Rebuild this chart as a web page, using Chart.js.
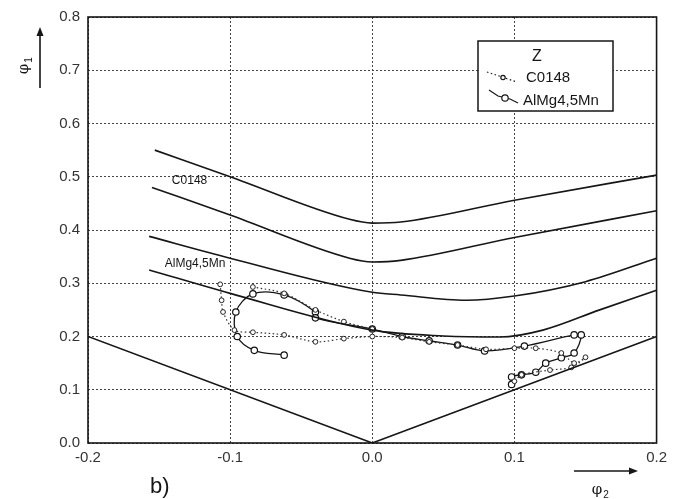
<!DOCTYPE html>
<html>
<head>
<meta charset="utf-8">
<script src="https://cdn.jsdelivr.net/npm/chart.js@4.4.1/dist/chart.umd.min.js"></script>
<style>
html,body{margin:0;padding:0;background:#fff;}
#wrap{width:673px;height:499px;position:relative;}
</style>
</head>
<body>
<div id="wrap"><canvas id="c" width="673" height="499"></canvas></div>
<script>
// ---- data ----
const xTickLabels = ['-0.2', '-0.1', '0.0', '0.1', '0.2'];
const yTickLabels = ['0.0', '0.1', '0.2', '0.3', '0.4', '0.5', '0.6', '0.7', '0.8'];

// limit curves (x = phi2, y = phi1)
const curveC0148Upper = [[-0.153,0.55],[-0.1,0.50],[-0.016,0.42],[0,0.413],[0.02,0.415],[0.1,0.456],[0.2,0.503]];
const curveC0148Lower = [[-0.155,0.48],[-0.1,0.428],[-0.016,0.347],[0,0.34],[0.02,0.343],[0.1,0.386],[0.2,0.436]];
const curveAlMgUpper  = [[-0.157,0.388],[-0.1,0.347],[0,0.283],[0.02,0.278],[0.066,0.268],[0.1,0.276],[0.15,0.303],[0.2,0.347]];
const curveAlMgLower  = [[-0.157,0.325],[-0.1,0.281],[0,0.212],[0.05,0.201],[0.09,0.199],[0.12,0.212],[0.16,0.25],[0.2,0.287]];
const boundaryV       = [[-0.2,0.2],[0,0],[0.2,0.2]];

// measured paths
const seriesC0148 = [[-0.107,0.298],[-0.106,0.268],[-0.105,0.246],[-0.097,0.212],[-0.084,0.208],[-0.062,0.203],[-0.04,0.19],
                     [-0.02,0.196],[0,0.2],[0.021,0.198],[0.04,0.19],[0.06,0.184],[0.08,0.176],[0.1,0.178],[0.115,0.178],
                     [0.133,0.169],[0.142,0.15],[0.15,0.161],[0.14,0.142],[0.125,0.137],[0.105,0.128],[0.1,0.116]];
const seriesC0148b = [[-0.084,0.293],[-0.062,0.281],[-0.04,0.25],[-0.02,0.228],[0,0.214]];
const seriesAlMg = [[-0.062,0.165],[-0.083,0.174],[-0.095,0.2],[-0.096,0.246],[-0.084,0.28],[-0.062,0.278],[-0.04,0.246],
                    [-0.04,0.235],[0,0.214],[0.021,0.2],[0.04,0.192],[0.06,0.184],[0.079,0.173],[0.107,0.182],[0.142,0.203],
                    [0.147,0.203],[0.142,0.169],[0.133,0.16],[0.122,0.15],[0.115,0.133],[0.105,0.128],[0.098,0.124],[0.098,0.11]];

const toXY = a => a.map(p => ({x: p[0], y: p[1]}));
const INK = '#161616';
const FONT = '"Liberation Sans", Arial, sans-serif';

function curveDs(pts) {
  return {data: toXY(pts), showLine: true, borderColor: INK, borderWidth: 1.6, pointRadius: 0,
          cubicInterpolationMode: 'monotone', fill: false};
}

const decor = {
  id: 'decor',
  beforeDatasetsDraw(chart) {
    const {ctx, chartArea: a} = chart;
    ctx.save();
    ctx.strokeStyle = INK; ctx.lineWidth = 1.6;
    ctx.strokeRect(a.left, a.top, a.right - a.left, a.bottom - a.top);
    ctx.restore();
  },
  afterDraw(chart) {
    const {ctx, scales} = chart;
    const xs = scales.x, ys = scales.y;
    ctx.save();
    ctx.fillStyle = INK; ctx.strokeStyle = INK;
    // in-plot curve labels
    ctx.font = '12px ' + FONT;
    ctx.textBaseline = 'middle'; ctx.textAlign = 'left';
    ctx.fillText('C0148', xs.getPixelForValue(-0.141), ys.getPixelForValue(0.492));
    ctx.fillText('AlMg4,5Mn', xs.getPixelForValue(-0.146), ys.getPixelForValue(0.336));
    // legend box
    ctx.fillStyle = '#fff';
    ctx.fillRect(478, 41, 135, 70);
    ctx.lineWidth = 1.5;
    ctx.strokeRect(478, 41, 135, 70);
    ctx.fillStyle = INK;
    ctx.font = '16px ' + FONT; ctx.textAlign = 'center';
    ctx.fillText('Z', 537, 57);
    ctx.textAlign = 'left';
    ctx.font = '15px ' + FONT;
    ctx.fillText('C0148', 526, 78);
    ctx.fillText('AlMg4,5Mn', 523, 101);
    // legend symbols
    ctx.lineWidth = 1.2;
    ctx.setLineDash([1.5, 2.5]);
    ctx.beginPath(); ctx.moveTo(487, 72); ctx.lineTo(517, 82); ctx.stroke();
    ctx.setLineDash([]);
    ctx.fillStyle = '#fff';
    ctx.beginPath(); ctx.arc(503, 77.5, 2.2, 0, Math.PI * 2); ctx.fill(); ctx.stroke();
    ctx.beginPath(); ctx.moveTo(489, 90); ctx.lineTo(498, 96); ctx.lineTo(510, 99); ctx.lineTo(518, 103); ctx.stroke();
    ctx.beginPath(); ctx.arc(505, 98, 3.2, 0, Math.PI * 2); ctx.fill(); ctx.stroke();
    ctx.fillStyle = INK;
    // y axis title with arrow
    ctx.save();
    ctx.translate(24, 66); ctx.rotate(-Math.PI / 2);
    ctx.font = '15px "DejaVu Serif", serif'; ctx.textAlign = 'center';
    ctx.fillText('\u03C6', -3, 0);
    ctx.font = '10px ' + FONT;
    ctx.fillText('1', 6, 5);
    ctx.restore();
    ctx.lineWidth = 1.6;
    ctx.beginPath(); ctx.moveTo(40, 88); ctx.lineTo(40, 32); ctx.stroke();
    ctx.beginPath(); ctx.moveTo(40, 27); ctx.lineTo(36.5, 36); ctx.lineTo(43.5, 36); ctx.closePath(); ctx.fill();
    // x axis title with arrow
    ctx.beginPath(); ctx.moveTo(574, 471); ctx.lineTo(632, 471); ctx.stroke();
    ctx.beginPath(); ctx.moveTo(638, 471); ctx.lineTo(629, 467.5); ctx.lineTo(629, 474.5); ctx.closePath(); ctx.fill();
    ctx.font = '15px "DejaVu Serif", serif'; ctx.textAlign = 'center';
    ctx.fillText('\u03C6', 597, 490);
    ctx.font = '10px ' + FONT;
    ctx.fillText('2', 606, 495);
    // panel label
    ctx.font = '22px ' + FONT; ctx.textAlign = 'left';
    ctx.fillText('b)', 150, 487);
    ctx.restore();
  }
};

new Chart(document.getElementById('c'), {
  type: 'scatter',
  data: {
    datasets: [
      curveDs(curveC0148Upper),
      curveDs(curveC0148Lower),
      curveDs(curveAlMgUpper),
      curveDs(curveAlMgLower),
      {data: toXY(boundaryV), showLine: true, borderColor: INK, borderWidth: 1.6, pointRadius: 0, tension: 0},
      {data: toXY(seriesC0148), showLine: true, borderColor: '#333', borderWidth: 1.2, borderDash: [1.5, 2.5],
       tension: 0.3, pointRadius: 2.4, pointStyle: 'circle', pointBackgroundColor: '#fff', pointBorderColor: '#222', pointBorderWidth: 1},
      {data: toXY(seriesC0148b), showLine: true, borderColor: '#333', borderWidth: 1.2, borderDash: [1.5, 2.5],
       tension: 0.3, pointRadius: 2.4, pointStyle: 'circle', pointBackgroundColor: '#fff', pointBorderColor: '#222', pointBorderWidth: 1},
      {data: toXY(seriesAlMg), showLine: true, borderColor: INK, borderWidth: 1.3,
       tension: 0.35, pointRadius: 3.2, pointStyle: 'circle', pointBackgroundColor: '#fff', pointBorderColor: '#111', pointBorderWidth: 1.2}
    ]
  },
  options: {
    responsive: false,
    animation: false,
    layout: {padding: {top: 17, right: 15, left: 0, bottom: 0}},
    plugins: {legend: {display: false}, tooltip: {enabled: false}},
    scales: {
      x: {
        type: 'linear', min: -0.2, max: 0.2,
        afterBuildTicks: s => { s.ticks = xTickLabels.map(v => ({value: parseFloat(v)})); },
        afterFit: s => { s.height = 56; },
        grid: {color: '#444', lineWidth: 1, drawTicks: false, tickBorderDash: [], },
        border: {display: false, dash: [2, 2]},
        ticks: {padding: 6, color: '#333', font: {family: FONT, size: 15}, maxRotation: 0,
                callback: (v) => xTickLabels.find(t => Math.abs(parseFloat(t) - v) < 1e-9)}
      },
      y: {
        type: 'linear', min: 0, max: 0.8,
        afterBuildTicks: s => { s.ticks = yTickLabels.map(v => ({value: parseFloat(v)})); },
        afterFit: s => { s.width = 88; },
        grid: {color: '#444', lineWidth: 1, drawTicks: false},
        border: {display: false, dash: [2, 2]},
        ticks: {padding: 8, color: '#333', font: {family: FONT, size: 15},
                callback: (v) => yTickLabels.find(t => Math.abs(parseFloat(t) - v) < 1e-9)}
      }
    }
  },
  plugins: [decor]
});
</script>
</body>
</html>
